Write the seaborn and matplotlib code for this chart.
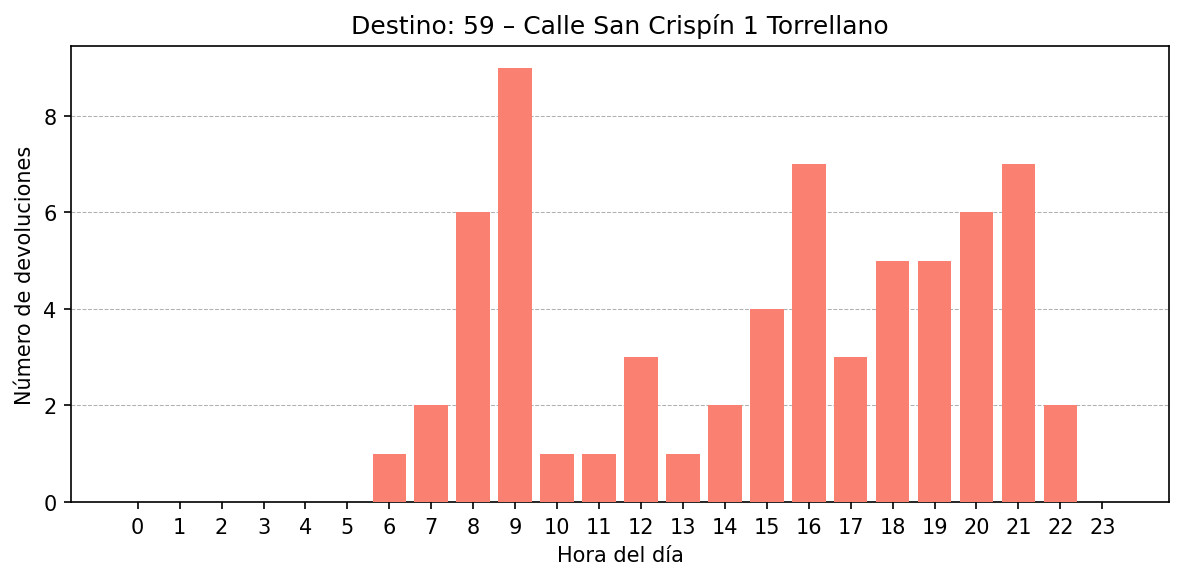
import matplotlib
matplotlib.use("Agg")
import matplotlib.pyplot as plt
import pandas as pd
import seaborn as sns

HOURS = list(range(24))
RETURNS = [0, 0, 0, 0, 0, 0, 1, 2, 6, 9, 1, 1, 3, 1, 2, 4, 7, 3, 5, 5, 6, 7, 2, 0]
TITLE = "Destino: 59 – Calle San Crispín 1 Torrellano"

df = pd.DataFrame({"hora": HOURS, "devoluciones": RETURNS})

plt.rcParams["font.family"] = ["DejaVu Sans"]

fig, ax = plt.subplots(figsize=(7.8933, 3.8733), dpi=150)

sns.barplot(
    data=df,
    x="hora",
    y="devoluciones",
    native_scale=True,
    color="salmon",
    saturation=1,
    width=0.8,
    errorbar=None,
    linewidth=0,
    edgecolor="none",
    zorder=3,
    ax=ax,
)

span = (HOURS[-1] + 0.4) - (HOURS[0] - 0.4)
ax.set_xlim(HOURS[0] - 0.4 - 0.05 * span, HOURS[-1] + 0.4 + 0.05 * span)
ax.set_ylim(0, max(RETURNS) * 1.05)
ax.set_xticks(HOURS)
ax.set_xticklabels([str(h) for h in HOURS])
ax.set_yticks([0, 2, 4, 6, 8])

ax.yaxis.grid(True, linestyle="--", linewidth=0.5, color="#b0b0b0", zorder=0)
ax.xaxis.grid(False)
ax.set_axisbelow(True)

ax.tick_params(axis="both", labelsize=10)
ax.set_title(TITLE, fontsize=12)
ax.set_xlabel("Hora del día", fontsize=10)
ax.set_ylabel("Número de devoluciones", fontsize=10)

fig.subplots_adjust(left=71 / 1184, right=1169 / 1184, top=1 - 47 / 581, bottom=1 - 503 / 581)
plt.savefig("out.png", dpi=150)
